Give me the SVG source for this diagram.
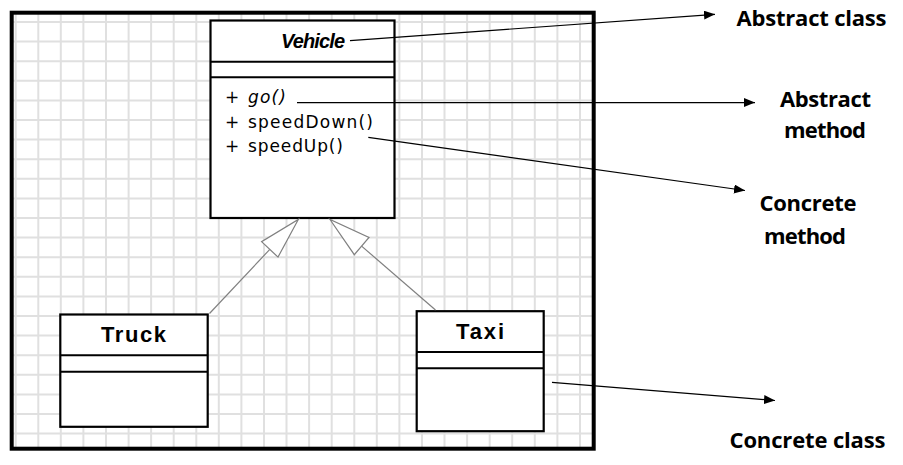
<svg xmlns="http://www.w3.org/2000/svg" width="903" height="465" viewBox="0 0 903 465">
<style>
.grid{stroke:#e0e0e0;stroke-width:2;fill:none}
.frame{fill:none;stroke:#000;stroke-width:4}
.box{fill:#fff;stroke:#000;stroke-width:2.2}
.sep{stroke:#000;stroke-width:2}
.cname{font-family:"Liberation Sans",Arial,sans-serif;font-weight:bold;fill:#000}
.member{font-family:"DejaVu Sans","Liberation Sans",sans-serif;font-size:17px;fill:#000}
.label{font-family:"Open Sans","Liberation Sans",sans-serif;font-weight:bold;font-size:22px;fill:#000}
.inh{stroke:#808080;stroke-width:1.2;fill:none}
.tri{fill:#fff;stroke:#808080;stroke-width:1.2}
.note{stroke:#000;stroke-width:1.2;fill:none;marker-end:url(#arr)}
</style>
<defs>
<marker id="arr" markerUnits="userSpaceOnUse" markerWidth="12" markerHeight="10" refX="11" refY="4.5" orient="auto">
<path d="M0,0 L11,4.5 L0,9 Z" fill="#000"/>
</marker>
</defs>
<rect width="903" height="465" fill="#fff"/>
<g id="background">
<path class="grid" d="M15.7,13V449M38.3,13V449M60.8,13V449M83.4,13V449M106,13V449M128.6,13V449M151.1,13V449M173.7,13V449M196.3,13V449M218.8,13V449M241.4,13V449M264,13V449M286.5,13V449M309.1,13V449M331.7,13V449M354.3,13V449M376.8,13V449M399.4,13V449M422,13V449M444.5,13V449M467.1,13V449M489.7,13V449M512.2,13V449M534.8,13V449M557.4,13V449M580,13V449
M12,22H593M12,41.6H593M12,61.2H593M12,80.8H593M12,100.4H593M12,120H593M12,139.6H593M12,159.2H593M12,178.8H593M12,198.4H593M12,218H593M12,237.6H593M12,257.2H593M12,276.8H593M12,296.4H593M12,316H593M12,335.6H593M12,355.2H593M12,374.8H593M12,394.4H593M12,414H593M12,433.6H593"/>
<rect class="frame" x="11.7" y="12.7" width="582" height="436"/>
</g>
<g id="vehicle">
<rect class="box" x="210.5" y="20.5" width="184" height="197.5"/>
<line class="sep" x1="210.5" y1="61.7" x2="394.5" y2="61.7"/>
<line class="sep" x1="210.5" y1="77.3" x2="394.5" y2="77.3"/>
<text class="cname" x="281" y="48" font-size="20" font-style="italic" textLength="64">Vehicle</text>
<text class="member" x="225" y="103">+</text>
<text class="member" x="248" y="103" font-style="italic" textLength="38">go()</text>
<text class="member" x="225" y="128">+</text>
<text class="member" x="248" y="128" textLength="125">speedDown()</text>
<text class="member" x="225" y="152">+</text>
<text class="member" x="248" y="152" textLength="95">speedUp()</text>
</g>
<g id="truck">
<rect class="box" x="60.3" y="314.5" width="147.4" height="112.3"/>
<line class="sep" x1="60.3" y1="355.3" x2="207.7" y2="355.3"/>
<line class="sep" x1="60.3" y1="371.7" x2="207.7" y2="371.7"/>
<text class="cname" x="101" y="342" font-size="22" textLength="65">Truck</text>
</g>
<g id="taxi">
<rect class="box" x="416.7" y="311.2" width="127" height="120"/>
<line class="sep" x1="416.7" y1="352" x2="543.7" y2="352"/>
<line class="sep" x1="416.7" y1="368.3" x2="543.7" y2="368.3"/>
<text class="cname" x="456" y="338.5" font-size="22" textLength="48">Taxi</text>
</g>
<g id="connectors">
<line class="inh" x1="209.5" y1="313.5" x2="269.8" y2="249.4"/>
<polygon class="tri" points="298.3,219.5 278,257.1 261.6,241.7"/>
<line class="inh" x1="435.5" y1="310" x2="361.6" y2="246.1"/>
<polygon class="tri" points="330,219.5 354.3,254.7 369,237.5"/>
<line class="note" x1="350" y1="40.7" x2="715" y2="14.3"/>
<line class="note" x1="297" y1="102.6" x2="755" y2="102.6"/>
<line class="note" x1="368.3" y1="137.3" x2="745" y2="190.5"/>
<line class="note" x1="552" y1="382.3" x2="775" y2="400.5"/>
</g>
<g id="label-abstract-class">
<text class="label" x="736.5" y="26" textLength="150">Abstract class</text>
</g>
<g id="label-abstract-method">
<text class="label" x="780" y="107" textLength="91">Abstract</text>
<text class="label" x="784" y="138" textLength="82">method</text>
</g>
<g id="label-concrete-method">
<text class="label" x="759.5" y="211" textLength="97">Concrete</text>
<text class="label" x="764" y="244" textLength="82">method</text>
</g>
<g id="label-concrete-class">
<text class="label" x="729.5" y="448" textLength="156">Concrete class</text>
</g>
</svg>
